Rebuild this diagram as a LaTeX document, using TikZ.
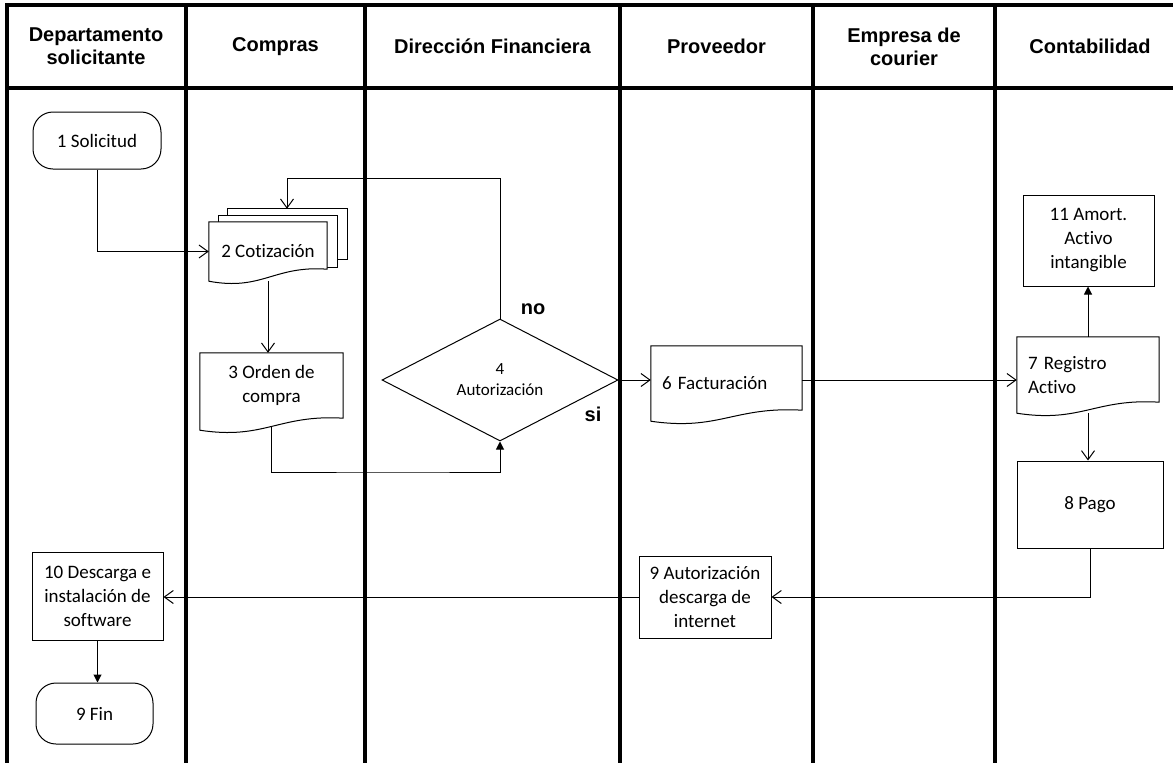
\documentclass[tikz,border=0pt]{standalone}
\usepackage{fontspec}
\setmainfont{Carlito}[Ligatures=NoCommon]
\newfontfamily\headfont{Liberation Sans}
\usetikzlibrary{arrows.meta,calc,shapes.geometric,backgrounds}

\newcommand\bodysize{\fontsize{19}{24}\selectfont}
\newcommand\smallsize{\fontsize{17}{21}\selectfont}

% outline of a flowchart "document" symbol around node #1;
% #2 = rise of the right end of the wavy bottom above the node's south side,
% #3 = drop of its left end below that side
\newcommand\docpath[3]{%
  \path[docline] let \p1=(#1.south west), \p2=(#1.north east) in
    (\x1,\y1-#3) -- (\x1,\y2) -- (\x2,\y2) -- (\x2,\y1+#2)
    .. controls ({\x2-0.45*(\x2-\x1)},{\y1+#2+4pt})
             and ({\x1+0.45*(\x2-\x1)},{\y1-#3-10pt}) .. (\x1,\y1-#3) -- cycle;}

\begin{document}
\begin{tikzpicture}[x=1pt,y=-1pt,
  lane/.style={line width=3.2pt, line cap=rect},
  conn/.style={line width=1pt, draw=black},
  open/.style={conn, -{Straight Barb[length=9pt,width=13pt]}},
  filltip/.style={conn, -{Triangle[length=8pt,width=8pt]}},
  head/.style={font=\headfont\bfseries\fontsize{20}{23}\selectfont, align=center},
  box/.style={draw, line width=1pt, fill=white, align=center, inner sep=2pt, font=\bodysize},
  term/.style={box, rounded corners=20pt},
  doc/.style={align=center, inner sep=2pt, font=\bodysize},
  docleft/.style={doc, align=left, inner xsep=11pt},
  docline/.style={draw, line width=1pt, fill=white},
  decision/.style={diamond, draw, line width=1pt, fill=white, inner sep=0pt,
                   align=center, font=\smallsize},
]
\useasboundingbox (0,0) rectangle (1173,763);

% swimlane grid
\draw[lane] (7,5) -- (1180,5);
\draw[lane] (7,88) -- (1180,88);
\foreach \x in {7,186,365,620,813,995}
  \draw[lane] (\x,5) -- (\x,770);

% lane headers
\node[head] (hdept) at (96,46.5) {Departamento\\solicitante};
\node[head] (hcomp) at (275.5,46.5) {Compras};
\node[head] (hdir)  at (492.5,46.5) {Dirección Financiera};
\node[head] (hprov) at (716.5,46.5) {Proveedor};
\node[head] (hcour) at (904,46.5) {Empresa de\\courier};
\node[head] (hcont) at (1090,46.5) {Contabilidad};

% process steps
\node[term, minimum width=128pt, minimum height=57pt] (sol) at (97,140.5) {1 Solicitud};
\node[doc, minimum width=118pt, minimum height=59pt] (cot) at (268,251.5) {2 Cotización};
\node[doc, minimum width=143pt, minimum height=65pt] (ord) at (271.5,385.5) {3 Orden de\\compra};
\node[decision, minimum width=236pt, minimum height=122pt] (dec) at (500,380) {4\\Autorización};
\node[docleft, text width=129pt, minimum height=75pt] (fac) at (726.5,383.5) {6 Facturación};
\node[docleft, text width=120pt, minimum height=76pt] (reg) at (1088,375) {7 Registro\\Activo};
\node[box, minimum width=131pt, minimum height=91pt] (amo) at (1088.5,240.5) {11 Amort.\\Activo\\intangible};
\node[box, minimum width=146pt, minimum height=87pt] (pag) at (1090,504.5) {8 Pago};
\node[box, minimum width=132pt, minimum height=82pt] (aut) at (705,597) {9 Autorización\\descarga de\\internet};
\node[box, minimum width=131pt, minimum height=88pt] (des) at (97.5,596) {10 Descarga e\\instalación de\\software};
\node[term, minimum width=117pt, minimum height=61pt] (fin) at (94.5,713.5) {9 Fin};

% decision outcomes
\node[head] (lno) at (533,309) {no};
\node[head] (lsi) at (593,414) {si};

% document outlines (behind their texts)
\begin{pgfonlayer}{background}
  \path[docline] ($(cot.north west)+(19,-13)$) rectangle ($(cot.south east)+(20,-22)$);
  \path[docline] ($(cot.north west)+(10,-6)$) rectangle ($(cot.south east)+(10,-14)$);
  \docpath{cot}{12pt}{0pt}
  \docpath{ord}{0pt}{12pt}
  \docpath{fac}{11pt}{0pt}
  \docpath{reg}{11pt}{0pt}
\end{pgfonlayer}

% flow
\coordinate (cotback) at ($(cot.north)+(19,-13)$);
\coordinate (ordturn) at (400,472);
\draw[open] (sol.south) |- (cot.west);
\draw[open] (dec.north) |- ($(cotback)+(0,-30)$) -- (cotback);
\draw[open] (cot.south) -- (cot.south |- ord.north);
\draw[filltip] ($(ord.south)+(0,8)$) |- (ordturn) -| (dec.south);
\draw[open] (dec.east) -- (dec.east -| fac.west);
\draw[open] (fac.east |- dec.east) -- (reg.west |- dec.east);
\draw[filltip] (reg.north) -- (reg.north |- amo.south);
\draw[open] (reg.south) -- (reg.south |- pag.north);
\draw[open] (pag.south) |- (aut.east);
\draw[open] (aut.west) -- (aut.west -| des.east);
\draw[filltip] (des.south) -- (des.south |- fin.north);
\end{tikzpicture}
\end{document}
